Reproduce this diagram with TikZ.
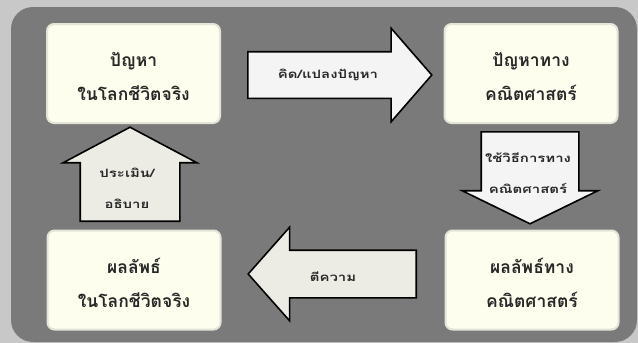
\documentclass[tikz,border=0pt]{standalone}
\usepackage{fontspec}
\usetikzlibrary{shapes.arrows}
\newfontfamily\thaifont[Script=Thai]{Loma}
\newfontfamily\thaiwide[Script=Thai, FakeStretch=1.3]{Loma}
\definecolor{pagegray}{RGB}{200,200,200}
\definecolor{panelgray}{RGB}{122,122,122}
\definecolor{cream}{RGB}{254,254,238}
\definecolor{glow}{RGB}{228,228,216}
\definecolor{arrowwhite}{RGB}{244,244,244}
\definecolor{arrowcream}{RGB}{236,236,228}
\definecolor{inkgray}{RGB}{40,40,40}

\begin{document}
\begin{tikzpicture}[x=1pt, y=-1pt,
  stage/.style={draw=glow, line width=2pt, fill=cream, rounded corners=7pt,
    minimum width=173pt, minimum height=99pt},
  stagetext/.style={align=center, text=inkgray,
    font=\thaifont\bfseries\fontsize{17.5}{34}\selectfont},
  blockarrow/.style={single arrow, draw=black, line width=1.6pt, inner sep=0pt, anchor=tail},
  arrowtext/.style={align=center, text=inkgray, font=\thaiwide\bfseries\fontsize{11.5}{31}\selectfont}]
  \useasboundingbox (0,0) rectangle (638,343);
  \fill[pagegray] (0,0) rectangle (638,343);
  \fill[panelgray, rounded corners=22pt] (11,7) rectangle (637,342);

  % the four stages
  \node[stage] (realprob) at (133.5,73.5) {};
  \node[stage] (mathprob) at (531,73.5) {};
  \node[stage] (mathres) at (532,280) {};
  \node[stage] (realres) at (134,280) {};
  \node[stagetext] (realprobtext) at ([yshift=-3pt]realprob.center) {ปัญหา\\ในโลกชีวิตจริง};
  \node[stagetext] (mathprobtext) at ([yshift=-3pt]mathprob.center) {ปัญหาทาง\\คณิตศาสตร์};
  \node[stagetext] (mathrestext) at ([yshift=-3pt]mathres.center) {ผลลัพธ์ทาง\\คณิตศาสตร์};
  \node[stagetext] (realrestext) at ([yshift=-3pt]realres.center) {ผลลัพธ์\\ในโลกชีวิตจริง};

  % block arrows between them
  \node[blockarrow, fill=arrowwhite, minimum height=184pt, minimum width=92pt,
    single arrow head extend=23.5pt, single arrow tip angle=98] (translate) at (247,75) {\rule{0pt}{45pt}};
  \node[blockarrow, fill=arrowwhite, shape border rotate=270, minimum height=92pt, minimum width=134pt,
    single arrow head extend=19pt, single arrow tip angle=128] (solve) at (530,131) {\hspace*{96pt}};
  \node[blockarrow, fill=arrowcream, shape border rotate=180, minimum height=168pt, minimum width=92pt,
    single arrow head extend=23pt, single arrow tip angle=97] (interpret) at (417,274) {\rule{0pt}{46pt}};
  \node[blockarrow, fill=arrowcream, shape border rotate=90, minimum height=94pt, minimum width=132pt,
    single arrow head extend=17pt, single arrow tip angle=124] (evaluate) at (130,222) {\hspace*{98pt}};

  \node[arrowtext] (translatetext) at (328,75) {คิด/แปลงปัญหา};
  \node[arrowtext] (solvetext) at (528,173) {ใช้วิธีการทาง\\คณิตศาสตร์};
  \node[arrowtext] (interprettext) at (333,277) {ตีความ};
  \node[arrowtext] (evaluatetext) at (127,188) {ประเมิน/\\อธิบาย};
\end{tikzpicture}
\end{document}
